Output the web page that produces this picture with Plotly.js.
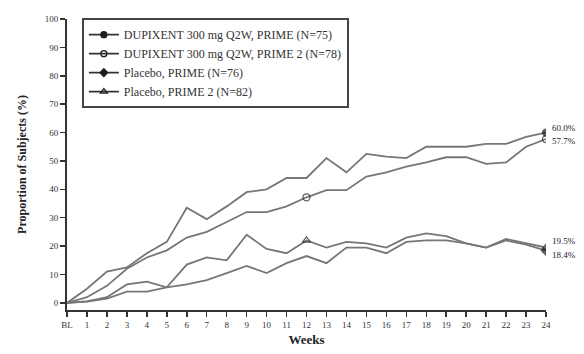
<!DOCTYPE html>
<html>
<head>
<meta charset="utf-8">
<script src="https://cdn.plot.ly/plotly-3.0.1.min.js"></script>
<style>
  html, body { margin: 0; padding: 0; background: #fff; }
  #chart { width: 584px; height: 354px; }
</style>
</head>
<body>
<div id="chart"></div>
<script>
// Study weeks (0 = baseline)
const weeks = [0, 1, 2, 3, 4, 5, 6, 7, 8, 9, 10, 11, 12, 13, 14, 15, 16, 17, 18, 19, 20, 21, 22, 23, 24];
const weekLabels = ['BL', '1', '2', '3', '4', '5', '6', '7', '8', '9', '10', '11', '12',
  '13', '14', '15', '16', '17', '18', '19', '20', '21', '22', '23', '24'];

// Proportion of subjects (%) by week
const dupixentPrime  = [0, 5, 11, 12.5, 17.5, 21.5, 33.5, 29.5, 34, 39, 40, 44, 44, 51, 46, 52.5, 51.5, 51, 55, 55, 55, 56, 56, 58.5, 60.0];
const dupixentPrime2 = [0, 2, 6, 12, 16, 18.5, 23, 25, 28.5, 32, 32, 34, 37.2, 39.7, 39.7, 44.5, 46, 48, 49.5, 51.3, 51.3, 49, 49.5, 55, 57.7];
const placeboPrime   = [0, 0.5, 1.5, 4, 4, 5.5, 6.5, 8, 10.5, 13, 10.5, 14, 16.5, 14, 19.5, 19.5, 17.5, 21.5, 22, 22, 21, 19.5, 22, 20.5, 18.4];
const placeboPrime2  = [0, 0.5, 2, 6.5, 7.5, 5.5, 13.5, 16, 15, 24, 19, 17.5, 22.0, 19.5, 21.5, 21, 19.5, 23, 24.5, 23.5, 21, 19.5, 22.5, 21, 19.5];

const seriesNames = [
  'DUPIXENT 300 mg Q2W, PRIME (N=75)',
  'DUPIXENT 300 mg Q2W, PRIME 2 (N=78)',
  'Placebo, PRIME (N=76)',
  'Placebo, PRIME 2 (N=82)'
];
// Weeks at which each series shows its marker
const markedWeeks = [[24], [12, 24], [24], [12, 24]];
const endLabels = ['60.0%', '57.7%', '18.4%', '19.5%'];

const seriesValues = [dupixentPrime, dupixentPrime2, placeboPrime, placeboPrime2];
const symbols = ['circle', 'circle-open', 'diamond', 'triangle-up-open'];
const lineColor = '#767676';
const markColor = '#1e1e1e';
const serif = 'Liberation Serif, Times New Roman, serif';

const traces = [];
seriesValues.forEach((vals, i) => {
  const sizes = weeks.map(w => markedWeeks[i].includes(w) ? 7 : 0);
  traces.push({
    x: weeks, y: vals, type: 'scatter', mode: 'lines+markers',
    line: { color: lineColor, width: 1.8 },
    marker: { symbol: symbols[i], size: sizes, color: markColor,
              line: { color: markColor, width: 1.3 } },
    showlegend: false, hoverinfo: 'skip'
  });
});
// Legend entries
seriesValues.forEach((vals, i) => {
  traces.push({
    x: [null], y: [null], type: 'scatter', mode: 'lines+markers', name: seriesNames[i],
    line: { color: '#333', width: 1.8 },
    marker: { symbol: symbols[i], size: 6, color: markColor, line: { color: markColor, width: 1.3 } }
  });
});

const yShifts = [5, -2, -4, 7];
const annotations = seriesValues.map((vals, i) => ({
  x: weeks[weeks.length - 1], y: vals[vals.length - 1], xref: 'x', yref: 'y',
  text: endLabels[i], showarrow: false, xanchor: 'left', yanchor: 'middle',
  xshift: 4, yshift: yShifts[i],
  font: { family: serif, size: 9, color: '#222' }
}));

const layout = {
  width: 584, height: 354,
  margin: { l: 67, r: 38, t: 19, b: 44 },
  paper_bgcolor: '#fff', plot_bgcolor: '#fff',
  font: { family: serif, color: '#222' },
  showlegend: true,
  legend: {
    x: 0.031, y: 1.003, xanchor: 'left', yanchor: 'top',
    bordercolor: '#444', borderwidth: 2, bgcolor: '#fff',
    font: { family: serif, size: 12, color: '#333' },
    tracegroupgap: 0
  },
  xaxis: {
    range: [0, 24], tickvals: weeks, ticktext: weekLabels,
    showgrid: false, zeroline: false, showline: true, linecolor: '#333', linewidth: 2,
    ticks: 'outside', ticklen: 5, tickwidth: 1.5, tickcolor: '#333',
    tickfont: { family: serif, size: 9, color: '#333' },
    title: { text: '<b>Weeks</b>', font: { family: serif, size: 13, color: '#222' }, standoff: 6 }
  },
  yaxis: {
    range: [-2.5, 100], tickvals: [0, 10, 20, 30, 40, 50, 60, 70, 80, 90, 100],
    showgrid: false, zeroline: false, showline: true, linecolor: '#333', linewidth: 2,
    ticks: 'outside', ticklen: 5, tickwidth: 1.5, tickcolor: '#333',
    tickfont: { family: serif, size: 9, color: '#333' },
    title: { text: '<b>Proportion of Subjects (%)</b>', font: { family: serif, size: 12, color: '#222' }, standoff: 16 }
  },
  annotations: annotations
};

Plotly.newPlot('chart', traces, layout, { displayModeBar: false, staticPlot: true });
</script>
</body>
</html>
